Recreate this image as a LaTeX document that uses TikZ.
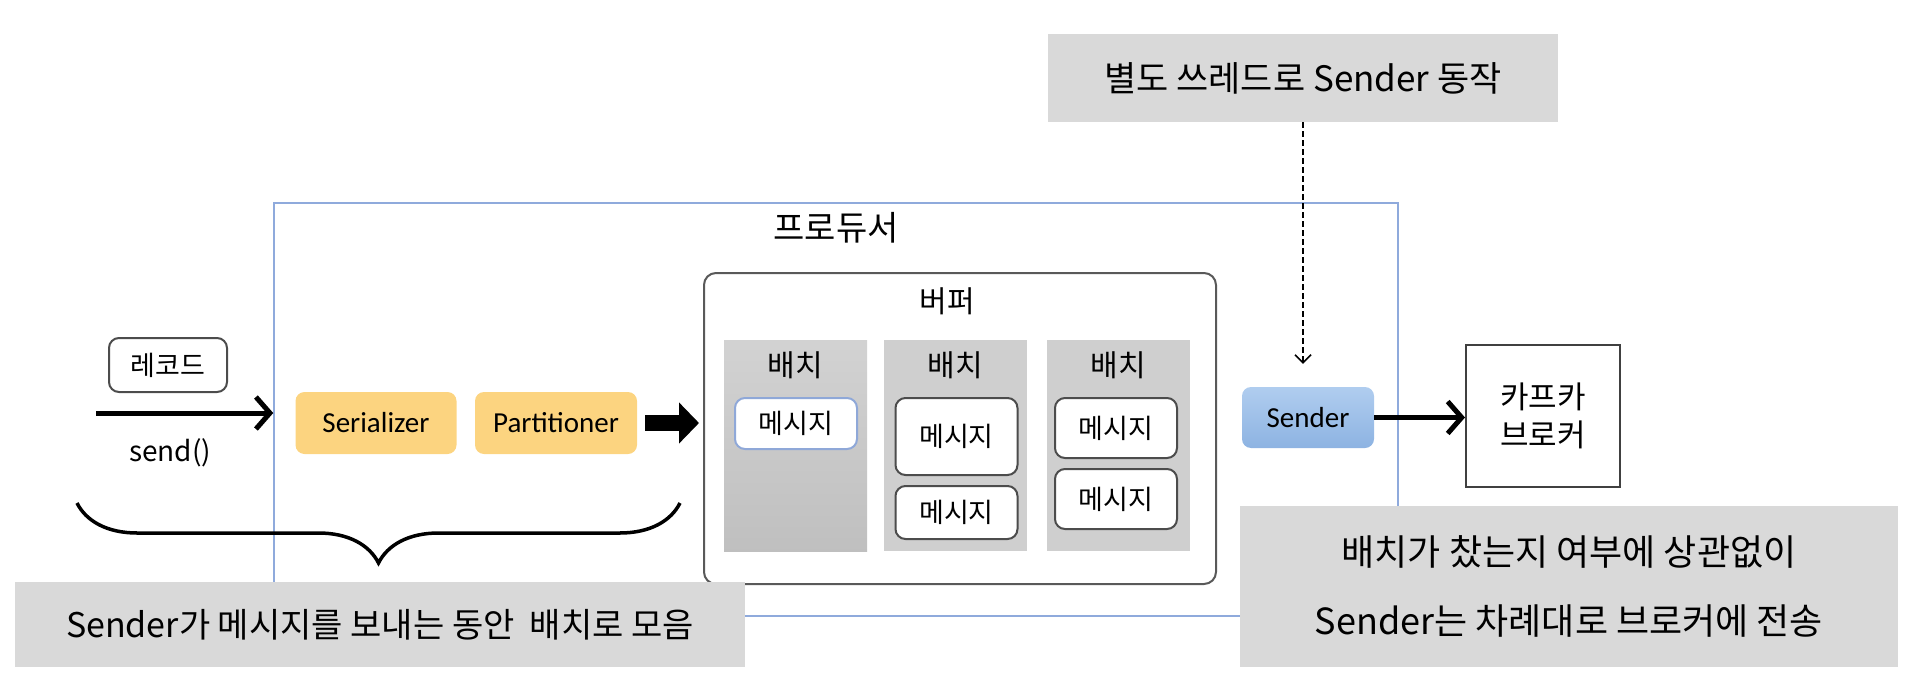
\documentclass[tikz,border=0pt]{standalone}
\usepackage{fontspec}
\setmainfont{Noto Sans CJK KR}
\newfontfamily\latinfont{Carlito}
\usetikzlibrary{arrows.meta, positioning, decorations.pathreplacing}

\definecolor{prodblue}{HTML}{8FAADC}
\definecolor{stagefill}{HTML}{FCD480}
\definecolor{sendtop}{HTML}{B0CDEF}
\definecolor{sendbot}{HTML}{8DB3E2}
\definecolor{notegray}{HTML}{D9D9D9}
\definecolor{batchgray}{HTML}{CFCFCF}
\definecolor{msgblue}{HTML}{8FA8D8}

\begin{document}
\begin{tikzpicture}[
    x=1pt, y=-1pt,
    box/.style={draw=black!70, line width=2pt, rounded corners=10pt, fill=white, inner sep=0pt},
    stage/.style={fill=stagefill, rounded corners=9pt, minimum width=161pt, minimum height=62pt,
        inner sep=0pt, font=\latinfont\fontsize{29}{31}\selectfont},
    batch/.style={fill=batchgray, minimum width=143pt, minimum height=211pt, inner sep=0pt},
    batchlab/.style={font=\fontsize{30}{32}\selectfont},
    msg/.style={box, minimum width=122pt, font=\fontsize{27}{29}\selectfont},
    note/.style={fill=notegray, inner sep=0pt, align=center, font=\fontsize{36}{69}\selectfont},
    bigarrow/.style={line width=5pt, -{Straight Barb[length=14pt, width=32pt]}}
]
    \useasboundingbox (0,0) rectangle (1920,688);

    % 프로듀서
    \node[draw=prodblue, line width=1.5pt, minimum width=1124pt, minimum height=413pt, inner sep=0pt] (prod) at (836,409.5) {};
    \node[font=\fontsize{34}{36}\selectfont] (prodlab) at (836,228) {프로듀서};

    % 레코드 + send()
    \node[box, minimum width=118pt, minimum height=54pt, font=\fontsize{27}{29}\selectfont] (rec) at (168,365) {레코드};
    \coordinate (sendin) at (96,413);
    \draw[bigarrow] (sendin) -- (sendin -| prod.west);
    \node[font=\fontsize{28}{30}\selectfont] (sendlab) at (170,453) {send()};

    % Serializer, Partitioner
    \node[stage] (ser) at (376,423) {Serializer};
    \node[stage, minimum width=162pt] (part) at (556,423) {Partitioner};

    % 버퍼
    \node[box, draw=black!65, rounded corners=12pt, minimum width=512pt, minimum height=311pt] (buf) at (960,428.5) {};
    \node[font=\fontsize{30}{32}\selectfont] (buflab) at (947,301) {버퍼};
    \draw[line width=16pt, -{Triangle[length=20pt, width=40pt]}] ([xshift=8pt]part.east) -- ([xshift=-4pt]part.east -| buf.west);

    % 배치 1
    \node[batch, top color=gray!35, bottom color=gray!50] (b1) at (795.5,445.5) {};
    \node[batchlab] (b1lab) at (795.5,365) {배치};
    \node[msg, draw=msgblue, minimum height=51pt] (m1) at (796,423.5) {메시지};

    % 배치 2
    \node[batch] (b2) at (955.5,445.5) {};
    \node[batchlab] (b2lab) at (955.5,365) {배치};
    \node[msg, minimum height=77pt] (m2a) at (956.5,436.5) {메시지};
    \node[msg, minimum height=53pt] (m2b) at (956.5,512.5) {메시지};

    % 배치 3
    \node[batch] (b3) at (1118,445.5) {};
    \node[batchlab] (b3lab) at (1118,365) {배치};
    \node[msg, minimum height=60pt] (m3a) at (1116,428) {메시지};
    \node[msg, minimum height=60pt] (m3b) at (1116,499) {메시지};

    % Sender, 카프카 브로커
    \node[top color=sendtop, bottom color=sendbot, rounded corners=9pt, minimum width=132pt, minimum height=61pt,
        inner sep=0pt, font=\latinfont\fontsize{29}{31}\selectfont] (sender) at (1308,417.5) {Sender};
    \node[draw=black!75, line width=2pt, minimum width=154pt, minimum height=142pt, inner sep=0pt, align=center,
        font=\fontsize{31}{38}\selectfont] (broker) at (1543,416) {카프카\\브로커};
    \draw[bigarrow] (sender.east) -- (sender.east -| broker.west);

    % 별도 쓰레드
    \node[note, minimum width=510pt, minimum height=88pt, font=\fontsize{35}{37}\selectfont] (thread) at (1303,78) {별도 쓰레드로 Sender 동작};
    \coordinate (senderTop) at ([yshift=23pt]sender.north);
    \draw[line width=1.5pt, dash pattern=on 6pt off 3pt, -{Straight Barb[length=8pt, width=16pt]}] (thread.south) -- (thread.south |- senderTop);

    % 중괄호
    \coordinate (braceL) at (77,503);
    \coordinate (braceR) at (680,503);
    \draw[line width=3.5pt, decorate, decoration={brace, mirror, amplitude=60pt}] (braceL) -- (braceR);

    % 설명
    \node[note, minimum width=730pt, minimum height=85pt, font=\fontsize{34}{36}\selectfont] (noteL) at (380,624.5) {Sender가 메시지를 보내는 동안\ \ 배치로 모음};
    \node[note, minimum width=658pt, minimum height=161pt] (noteR) at (1569,586.5) {배치가 찼는지 여부에 상관없이\\Sender는 차례대로 브로커에 전송};
\end{tikzpicture}
\end{document}
